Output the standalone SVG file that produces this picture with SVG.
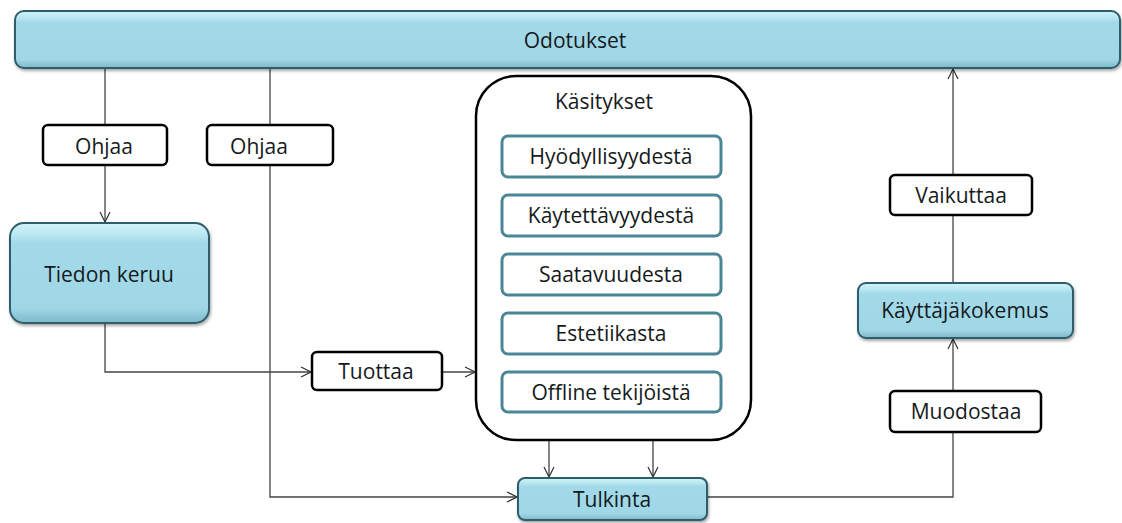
<svg xmlns="http://www.w3.org/2000/svg" width="1122" height="523" viewBox="0 0 1122 523">
<defs>
<linearGradient id="blue" x1="0" y1="0" x2="0" y2="1">
<stop offset="0" stop-color="#d4f3f8"/>
<stop offset="0.12" stop-color="#b9e7f1"/>
<stop offset="0.2" stop-color="#a3dae9"/>
<stop offset="0.85" stop-color="#9fd7e7"/>
<stop offset="1" stop-color="#7fb8c8"/>
</linearGradient>
<filter id="sh" x="-10%" y="-20%" width="120%" height="150%">
<feDropShadow dx="1" dy="2" stdDeviation="1.5" flood-color="#000" flood-opacity="0.35"/>
</filter>
<marker id="arr" viewBox="0 0 12 12" refX="11" refY="6" markerWidth="12" markerHeight="12" markerUnits="userSpaceOnUse" orient="auto">
<path d="M1,1 L11,6 L1,11" fill="none" stroke="#333" stroke-width="1.2"/>
</marker>
</defs>
<style>
.b{fill:url(#blue);stroke:#2e5d6c;stroke-width:2;filter:url(#sh)}
.w{fill:#fff;stroke:#000;stroke-width:2.5}
.i{fill:#fff;stroke:#4b8696;stroke-width:3}
.c{fill:none;stroke:#444;stroke-width:1.3}
text{font-family:"Open Sans","Liberation Sans",sans-serif;font-size:21px;fill:#151a20;text-anchor:middle;dominant-baseline:central}
</style>
<g id="connectors">
<path class="c" d="M105,68 V125"/>
<path class="c" d="M105,165 V222" marker-end="url(#arr)"/>
<path class="c" d="M270,68 V125"/>
<path class="c" d="M270,165 V497 H517" marker-end="url(#arr)"/>
<path class="c" d="M105,323 V372 H311" marker-end="url(#arr)"/>
<path class="c" d="M442,372 H475" marker-end="url(#arr)"/>
<path class="c" d="M549,440 V477" marker-end="url(#arr)"/>
<path class="c" d="M653,440 V477" marker-end="url(#arr)"/>
<path class="c" d="M707,497 H953 V432"/>
<path class="c" d="M953,391 V339" marker-end="url(#arr)"/>
<path class="c" d="M953,283 V215"/>
<path class="c" d="M953,175 V69" marker-end="url(#arr)"/>
</g>
<g id="odotukset"><rect class="b" x="15" y="11" width="1105" height="57" rx="9"/><text x="575" y="40">Odotukset</text></g>
<g id="ohjaa1"><rect class="w" x="43" y="125" width="124" height="40" rx="5"/><text x="104" y="146">Ohjaa</text></g>
<g id="ohjaa2"><rect class="w" x="207" y="125" width="126" height="40" rx="5"/><text x="259" y="146">Ohjaa</text></g>
<g id="tiedon"><rect class="b" x="10" y="223" width="199" height="100" rx="14"/><text x="109" y="274">Tiedon keruu</text></g>
<g id="tuottaa"><rect class="w" x="312" y="352" width="130" height="38" rx="5"/><text x="376" y="371">Tuottaa</text></g>
<g id="kasitykset"><rect class="w" x="476" y="76" width="275" height="364" rx="40"/><text x="604" y="101">Käsitykset</text></g>
<g id="hyod"><rect class="i" x="502" y="136" width="219" height="41" rx="6"/><text x="611" y="156">Hyödyllisyydestä</text></g>
<g id="kayt"><rect class="i" x="502" y="195" width="219" height="41" rx="6"/><text x="611" y="215">Käytettävyydestä</text></g>
<g id="saat"><rect class="i" x="502" y="254" width="219" height="41" rx="6"/><text x="611" y="274">Saatavuudesta</text></g>
<g id="este"><rect class="i" x="502" y="313" width="219" height="41" rx="6"/><text x="611" y="333">Estetiikasta</text></g>
<g id="offline"><rect class="i" x="502" y="372" width="219" height="40" rx="6"/><text x="611" y="392">Offline tekijöistä</text></g>
<g id="tulkinta"><rect class="b" x="518" y="478" width="189" height="42" rx="7"/><text x="612" y="499">Tulkinta</text></g>
<g id="muodostaa"><rect class="w" x="890" y="391" width="151" height="41" rx="5"/><text x="966" y="411">Muodostaa</text></g>
<g id="kayttaja"><rect class="b" x="858" y="283" width="215" height="55" rx="8"/><text x="965" y="310">Käyttäjäkokemus</text></g>
<g id="vaikuttaa"><rect class="w" x="890" y="175" width="142" height="40" rx="5"/><text x="961" y="195">Vaikuttaa</text></g>
</svg>
